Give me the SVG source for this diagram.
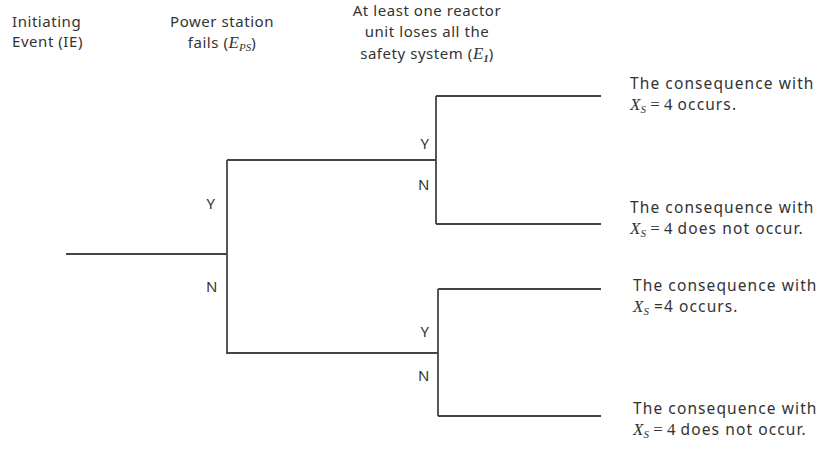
<svg xmlns="http://www.w3.org/2000/svg" width="826" height="450" viewBox="0 0 826 450">
<style>
text{font-family:"Noto Sans","Liberation Sans",sans-serif;font-size:15px;fill:#333;letter-spacing:0.55px}
.cq{font-size:15.5px;letter-spacing:1.1px}
.m{font-family:"Liberation Serif","DejaVu Serif",serif;font-style:italic;font-size:17px;letter-spacing:0}
.ms{font-family:"Liberation Serif","DejaVu Serif",serif;font-style:italic;font-size:11px;letter-spacing:0}
.mn{font-family:"Liberation Serif","DejaVu Serif",serif;font-size:17px;letter-spacing:0}
.c{text-anchor:middle}
.ln{stroke:#444;stroke-width:1.8;fill:none}
</style>
<rect width="826" height="450" fill="#fff"/>
<g id="headers">
<g id="h-ie"><text x="12" y="27">Initiating</text><text x="12" y="47">Event (IE)</text></g>
<g id="h-ps"><text x="222" y="27" class="c">Power station</text><text x="222" y="48" class="c">fails (<tspan class="m">E</tspan><tspan class="ms" dy="3">PS</tspan><tspan dy="-3">)</tspan></text></g>
<g id="h-e1"><text x="427" y="16" class="c">At least one reactor</text><text x="427" y="37" class="c">unit loses all the</text><text x="427" y="59" class="c">safety system (<tspan class="m">E</tspan><tspan class="ms" dy="3" font-style="normal" font-weight="bold">1</tspan><tspan dy="-3">)</tspan></text></g>
</g>
<g id="connectors" class="ln">
<path d="M66 254H227"/>
<path d="M227 160V354"/>
<path d="M227 160H436"/>
<path d="M227 353H438"/>
<path d="M436 96V224"/>
<path d="M436 96H601"/>
<path d="M436 224H601"/>
<path d="M438 289V416"/>
<path d="M438 289H601"/>
<path d="M438 416H601"/>
</g>
<g id="labels">
<text x="211" y="209" class="c">Y</text>
<text x="212" y="292" class="c">N</text>
<text x="425" y="149" class="c">Y</text>
<text x="424" y="190" class="c">N</text>
<text x="425" y="337" class="c">Y</text>
<text x="424" y="381" class="c">N</text>
</g>
<g id="c1"><text x="630" y="89" class="cq">The consequence with</text><text x="630" y="110" class="cq"><tspan class="m">X</tspan><tspan class="ms" dy="3">S</tspan><tspan dy="-3" class="mn"> = 4</tspan> occurs.</text></g>
<g id="c2"><text x="630" y="213" class="cq">The consequence with</text><text x="630" y="234" class="cq"><tspan class="m">X</tspan><tspan class="ms" dy="3">S</tspan><tspan dy="-3" class="mn"> = 4</tspan> does not occur.</text></g>
<g id="c3"><text x="633" y="291" class="cq">The consequence with</text><text x="633" y="312" class="cq"><tspan class="m">X</tspan><tspan class="ms" dy="3">S</tspan><tspan dy="-3"> =4 occurs.</tspan></text></g>
<g id="c4"><text x="633" y="414" class="cq">The consequence with</text><text x="633" y="435" class="cq"><tspan class="m">X</tspan><tspan class="ms" dy="3">S</tspan><tspan dy="-3" class="mn"> = 4</tspan> does not occur.</text></g>
</svg>
